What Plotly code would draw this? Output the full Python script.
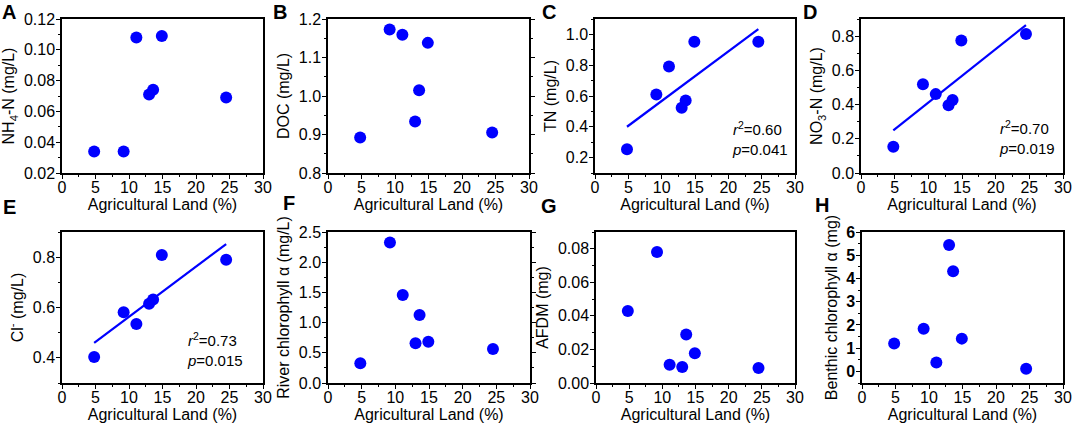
import numpy as np
import plotly.graph_objects as go
from plotly.subplots import make_subplots

# Shared x: agricultural land (%)
agri_land = [4.8, 9.2, 11.1, 13.0, 13.6, 14.9, 24.5]

nh4_n = [0.034, 0.034, 0.108, 0.071, 0.074, 0.109, 0.069]
doc = [0.892, 1.173, 1.159, 0.934, 1.015, 1.138, 0.905]
tn = [0.254, 0.610, 0.791, 0.523, 0.571, 0.952, 0.952]
no3_n = [0.153, 0.518, 0.461, 0.396, 0.427, 0.775, 0.812]
cl = [0.403, 0.581, 0.534, 0.615, 0.632, 0.809, 0.790]
river_chl = [0.328, 2.325, 1.457, 0.660, 1.124, 0.682, 0.562]
afdm = [0.0429, 0.0781, 0.0109, 0.0095, 0.0289, 0.0178, 0.0089]
benthic_chl = [1.20, 1.84, 0.38, 5.44, 4.31, 1.41, 0.11]

panel_letters = ["A", "B", "C", "D", "E", "F", "G", "H"]
y_titles = ["NH<sub>4</sub>-N (mg/L)", "DOC (mg/L)", "TN (mg/L)", "NO<sub>3</sub>-N (mg/L)",
            "Cl<sup>-</sup> (mg/L)", "River chlorophyll α (mg/L)", "AFDM (mg)",
            "Benthic chlorophyll α (mg)"]
y_ranges = [[0.02, 0.12], [0.8, 1.2], [0.1, 1.1], [0.0, 0.9],
            [0.3, 0.9], [0.0, 2.5], [0.0, 0.09], [-0.5, 6]]
y_dticks = [0.02, 0.1, 0.2, 0.2, 0.2, 0.5, 0.02, 1]
y_formats = [".2f", ".1f", ".1f", ".1f", ".1f", ".1f", ".2f", "d"]
fit_panels = {2: ("0.60", "0.041", 20.2, 0.327),
              3: ("0.70", "0.019", 20.2, 0.206),
              4: ("0.73", "0.015", 18.4, 0.432)}
series = [nh4_n, doc, tn, no3_n, cl, river_chl, afdm, benthic_chl]

W, H = 1072, 427
x_px = [(62, 263), (328, 529), (595, 795), (861, 1063),
        (62, 263), (328, 530), (596, 795), (862, 1063)]
y_px = [(19, 173)] * 4 + [(232, 383)] * 4
letter_pos = [(9, 12), (280, 12), (549, 12), (810, 12),
              (9, 207), (289, 203), (549, 206), (822, 205)]

BLUE = "#0000FF"
FONT = "Arial, Liberation Sans, sans-serif"

fig = make_subplots(rows=2, cols=4)

for i, ys in enumerate(series):
    r, c = i // 4 + 1, i % 4 + 1
    fig.add_trace(go.Scatter(x=agri_land, y=ys, mode="markers",
                             marker=dict(color=BLUE, size=12, line=dict(width=0)),
                             showlegend=False), row=r, col=c)
    if i in fit_panels:
        slope, intercept = np.polyfit(agri_land, ys, 1)
        xs = np.array([min(agri_land), max(agri_land)])
        fig.add_trace(go.Scatter(x=xs, y=slope * xs + intercept, mode="lines",
                                 line=dict(color=BLUE, width=2.2), showlegend=False),
                      row=r, col=c)
        r2, p, ax_x, ax_y = fit_panels[i]
        fig.add_annotation(x=ax_x, y=ax_y, xref=f"x{i+1}" if i else "x",
                           yref=f"y{i+1}" if i else "y",
                           text=f"<i>r</i><sup>2</sup>={r2}<br><i>p</i>={p}",
                           showarrow=False, xanchor="left", yanchor="middle", align="left",
                           font=dict(family=FONT, size=15, color="black"))

    xd = [x_px[i][0] / W, x_px[i][1] / W]
    yd = [1 - y_px[i][1] / H, 1 - y_px[i][0] / H]
    mirror_y = "ticks" if i in (1, 5) else True
    fig.update_xaxes(domain=xd, range=[0, 30], dtick=5, tick0=0, automargin=False,
                     ticks="outside", ticklen=4, tickwidth=1.3, tickcolor="black",
                     ticklabelstandoff=-5,
                     minor=dict(ticks="outside", ticklen=2.5, dtick=2.5, tickcolor="black"),
                     showline=True, linecolor="black", linewidth=1.5, mirror=True,
                     showgrid=False, zeroline=False,
                     tickfont=dict(family=FONT, size=16, color="black"),
                     title=dict(text="Agricultural Land (%)", standoff=2,
                                font=dict(family=FONT, size=16, color="black")),
                     row=r, col=c)
    tickfont = dict(family=FONT, size=16, color="black")
    if i == 7:
        tickfont["weight"] = "bold"
    fig.update_yaxes(domain=yd, range=y_ranges[i], dtick=y_dticks[i], tick0=0,
                     tickformat=y_formats[i], automargin=False,
                     ticks="outside", ticklen=4, tickwidth=1.3, tickcolor="black",
                     ticklabelstandoff=-2,
                     minor=dict(ticks="outside", ticklen=2.5, dtick=y_dticks[i] / 2,
                                tickcolor="black"),
                     showline=True, linecolor="black", linewidth=1.5, mirror=mirror_y,
                     showgrid=False, zeroline=False,
                     tickfont=tickfont,
                     title=dict(text=y_titles[i], standoff=5,
                                font=dict(family=FONT, size=16, color="black")),
                     row=r, col=c)

for letter, (lx, ly) in zip(panel_letters, letter_pos):
    fig.add_annotation(x=lx / W, y=1 - ly / H, xref="paper", yref="paper",
                       text=f"<b>{letter}</b>", showarrow=False,
                       xanchor="center", yanchor="middle",
                       font=dict(family=FONT, size=20, color="black"))

fig.update_layout(width=W, height=H, margin=dict(l=0, r=0, t=0, b=0, autoexpand=False),
                  paper_bgcolor="white", plot_bgcolor="white",
                  font=dict(family=FONT, size=16, color="black"))

fig.write_html("out.html", config={"displayModeBar": False},
               post_script="document.body.style.margin='0px';document.body.style.overflow='hidden';")
